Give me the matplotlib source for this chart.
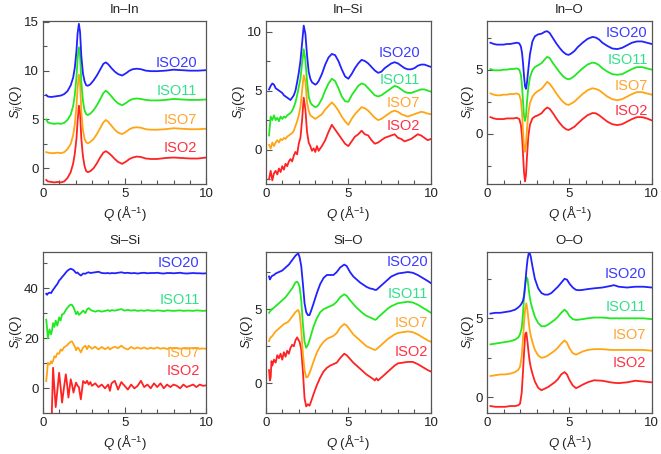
import numpy as np
import matplotlib
matplotlib.use("Agg")
import matplotlib.pyplot as plt
from matplotlib.ticker import MultipleLocator

plt.rcParams['font.family'] = ['Liberation Sans', 'DejaVu Sans']
plt.rcParams['mathtext.fontset'] = 'custom'
plt.rcParams['mathtext.rm'] = 'Liberation Sans'
plt.rcParams['mathtext.it'] = 'Liberation Sans:italic'

series_names = ['ISO2', 'ISO7', 'ISO11', 'ISO20']

# ---- In-In ----
q_inin = [0.2, 0.3, 0.5, 0.7, 0.9, 1.1, 1.3, 1.5, 1.7, 1.85, 1.95, 2.05, 2.12, 2.2, 2.27,
          2.35, 2.45, 2.55, 2.65, 2.75, 2.9, 3.1, 3.3, 3.5, 3.7, 3.85, 4.0, 4.2, 4.4, 4.6,
          4.85, 5.1, 5.3, 5.5, 5.75, 6.0, 6.3, 6.6, 7.0, 7.5, 8.0, 8.5, 9.0, 9.5, 10.0]
inin_iso2 = [-1.2, -1.35, -1.4, -1.45, -1.4, -1.45, -1.35, -1.0, -0.4, 0.5, 1.5, 3.0, 4.8, 6.4, 5.8,
             3.0, 1.2, 0.2, -0.3, -0.4, -0.3, 0.0, 0.5, 1.1, 1.6, 1.75, 1.6, 1.3, 0.95, 0.65,
             0.45, 0.7, 0.95, 1.1, 1.2, 1.15, 1.0, 0.95, 0.95, 1.05, 1.1, 1.05, 1.0, 1.0, 1.1]
inin_iso7 = [1.65, 1.6, 1.55, 1.55, 1.6, 1.55, 1.65, 1.95, 2.5, 3.4, 4.5, 6.3, 8.2, 9.6, 8.8,
             5.8, 3.9, 3.0, 2.65, 2.55, 2.7, 3.0, 3.5, 4.1, 4.7, 4.95, 4.75, 4.35, 3.95, 3.65,
             3.5, 3.75, 4.0, 4.15, 4.2, 4.15, 4.0, 3.95, 3.95, 4.0, 4.1, 4.05, 4.0, 4.0, 4.05]
inin_iso11 = [5.0, 4.7, 4.6, 4.55, 4.6, 4.55, 4.65, 4.95, 5.5, 6.4, 7.5, 9.3, 11.2, 12.4, 11.6,
              8.8, 6.9, 5.9, 5.55, 5.45, 5.6, 5.95, 6.45, 7.05, 7.7, 7.95, 7.75, 7.35, 6.95, 6.65,
              6.45, 6.7, 6.95, 7.1, 7.15, 7.1, 7.0, 6.95, 6.95, 7.0, 7.1, 7.05, 7.0, 7.0, 7.05]
inin_iso20 = [7.5, 7.35, 7.3, 7.35, 7.4, 7.45, 7.6, 7.9, 8.5, 9.3, 10.3, 12.0, 13.8, 14.8, 14.0,
              11.5, 9.7, 8.9, 8.5, 8.45, 8.6, 9.0, 9.5, 10.1, 10.7, 10.85, 10.65, 10.25, 9.9, 9.65,
              9.5, 9.75, 10.0, 10.15, 10.2, 10.15, 10.0, 9.95, 9.95, 10.0, 10.1, 10.05, 10.0, 10.0, 10.05]

# ---- In-Si ----
q_insi = [0.2, 0.3, 0.4, 0.5, 0.6, 0.7, 0.8, 0.9, 1.0, 1.1, 1.2, 1.3, 1.4, 1.5, 1.6, 1.7,
          1.8, 1.9, 2.0, 2.1, 2.2, 2.3, 2.4, 2.5, 2.6, 2.7, 2.8, 2.9, 3.0, 3.1, 3.2, 3.4,
          3.6, 3.8, 4.0, 4.2, 4.4, 4.6, 4.8, 5.0, 5.2, 5.4, 5.6, 5.8, 6.0, 6.2, 6.4, 6.6,
          6.8, 7.0, 7.2, 7.4, 7.6, 7.8, 8.0, 8.2, 8.4, 8.6, 8.8, 9.0, 9.2, 9.4, 9.6, 9.8, 10.0]
insi_iso2 = [-2.5, -1.8, -2.6, -2.0, -1.8, -2.1, -1.6, -1.9, -1.4, -1.7, -1.2, -1.4, -1.0, -0.8, -1.0, -0.5,
             -0.2, -0.4, 0.5, 1.0, 2.5, 4.4, 3.4, 1.5, 0.6, 0.3, -0.1, 0.1, -0.2, 0.3, -0.1, 0.3,
             0.8, 1.5, 2.1, 1.7, 1.3, 0.9, 0.5, 0.3, 0.7, 1.1, 1.3, 1.6, 1.3, 1.2, 0.8, 0.5,
             0.6, 0.8, 1.0, 1.1, 1.2, 1.3, 1.0, 0.9, 0.7, 0.8, 0.9, 1.1, 1.3, 1.2, 1.0, 0.8, 0.9]
insi_iso7 = [0.4, 0.1, 0.6, 0.3, 0.6, 0.8, 0.6, 0.9, 0.8, 1.0, 0.9, 1.1, 1.2, 1.3, 1.4, 1.6,
             2.0, 2.4, 2.9, 3.6, 5.0, 6.3, 5.8, 4.0, 3.3, 2.9, 2.8, 2.7, 2.6, 2.7, 2.8, 3.0,
             3.4, 3.7, 4.0, 3.7, 3.3, 2.8, 2.4, 2.1, 2.6, 3.0, 3.3, 3.6, 3.5, 3.3, 3.0, 2.7,
             2.5, 2.6, 2.8, 3.0, 3.2, 3.3, 3.2, 3.0, 2.9, 2.8, 2.9, 3.0, 3.1, 3.2, 3.15, 3.05, 3.0]
insi_iso11 = [1.2, 2.8, 2.5, 2.9, 2.5, 2.7, 2.4, 2.8, 2.6, 2.8, 2.7, 2.9, 3.0, 3.1, 3.3, 3.6,
              4.0, 4.6, 5.3, 6.0, 7.3, 8.5, 7.6, 5.8, 4.5, 4.0, 3.8, 3.7, 3.6, 3.65, 3.8, 4.3,
              5.0, 5.6, 6.0, 5.8, 5.2, 4.5, 4.1, 4.05, 4.6, 5.0, 5.4, 5.6, 5.5, 5.2, 4.9, 4.6,
              4.5, 4.6, 4.8, 5.0, 5.2, 5.4, 5.3, 5.1, 4.9, 4.8, 4.8, 4.9, 5.0, 5.1, 5.1, 5.0, 4.9]
insi_iso20 = [5.1, 5.4, 5.6, 5.5, 5.2, 5.1, 5.0, 4.9, 4.8, 4.6, 4.5, 4.4, 4.3, 4.2, 4.4, 4.6,
              5.0, 5.7, 6.5, 7.5, 9.0, 10.5, 9.8, 8.0, 6.6, 6.0, 5.7, 5.6, 5.5, 5.6, 5.8, 6.4,
              7.2, 7.8, 8.1, 8.0, 7.5, 6.8, 6.2, 6.0, 6.4, 6.9, 7.3, 7.6, 7.5, 7.3, 7.0, 6.7,
              6.5, 6.6, 6.9, 7.1, 7.3, 7.4, 7.3, 7.1, 6.9, 6.8, 6.8, 6.9, 7.1, 7.2, 7.2, 7.1, 7.0]

# ---- In-O ----
q_ino = [0.2, 0.4, 0.6, 0.8, 1.0, 1.2, 1.4, 1.6, 1.8, 1.95, 2.05, 2.12, 2.18, 2.24, 2.3, 2.36,
         2.42, 2.5, 2.6, 2.75, 2.9, 3.1, 3.3, 3.5, 3.65, 3.8, 4.0, 4.2, 4.4, 4.6, 4.8, 4.95,
         5.1, 5.3, 5.5, 5.8, 6.1, 6.4, 6.6, 6.8, 7.0, 7.3, 7.6, 7.9, 8.2, 8.5, 8.8, 9.1, 9.4, 9.7, 10.0]
ino_iso2 = [1.3, 1.2, 1.15, 1.15, 1.15, 1.2, 1.2, 1.2, 1.25, 1.15, 0.7, -0.2, -1.6, -3.0, -3.7, -3.2,
            -1.8, -0.2, 0.7, 1.2, 1.35, 1.45, 1.6, 1.9, 2.05, 1.95, 1.6, 1.2, 0.85, 0.55, 0.35, 0.3,
            0.4, 0.55, 0.8, 1.15, 1.45, 1.62, 1.6, 1.45, 1.25, 0.95, 0.75, 0.68, 0.75, 0.95, 1.15, 1.3, 1.3, 1.2, 1.05]
ino_iso7 = [3.15, 3.05, 3.0, 3.0, 3.05, 3.05, 3.1, 3.1, 3.15, 3.05, 2.6, 1.6, 0.2, -1.0, -1.4, -0.8,
            0.4, 1.6, 2.4, 2.9, 3.15, 3.35, 3.5, 3.8, 4.05, 3.9, 3.55, 3.15, 2.8, 2.5, 2.3, 2.25,
            2.35, 2.5, 2.75, 3.1, 3.4, 3.55, 3.5, 3.4, 3.2, 2.9, 2.7, 2.62, 2.7, 2.9, 3.1, 3.25, 3.25, 3.15, 3.05]
ino_iso11 = [5.05, 4.95, 4.95, 4.95, 5.0, 5.0, 5.05, 5.05, 5.1, 5.0, 4.6, 3.7, 2.5, 1.4, 1.0, 1.4,
             2.5, 3.6, 4.4, 4.95, 5.2, 5.35, 5.5, 5.8, 6.0, 5.9, 5.5, 5.15, 4.8, 4.5, 4.3, 4.25,
             4.32, 4.5, 4.75, 5.1, 5.4, 5.55, 5.5, 5.35, 5.1, 4.85, 4.65, 4.6, 4.65, 4.85, 5.05, 5.2, 5.2, 5.1, 5.0]
ino_iso20 = [7.1, 7.0, 6.95, 6.95, 6.95, 7.0, 7.0, 7.05, 7.1, 7.05, 6.8, 6.3, 5.5, 4.5, 3.7, 3.5,
             4.0, 5.0, 6.2, 7.2, 7.6, 7.75, 7.8, 7.95, 8.0, 7.85, 7.45, 7.05, 6.7, 6.4, 6.2, 6.15,
             6.25, 6.45, 6.75, 7.1, 7.4, 7.55, 7.5, 7.35, 7.1, 6.85, 6.65, 6.6, 6.7, 6.9, 7.1, 7.2, 7.2, 7.1, 7.0]

# ---- Si-Si ----
q_sisi = [0.2, 0.25, 0.3, 0.4, 0.5, 0.55, 0.62, 0.7, 0.78, 0.88, 0.99, 1.08, 1.17, 1.28, 1.4, 1.48,
          1.56, 1.63, 1.7, 1.78, 1.87, 1.95, 2.03, 2.12, 2.2, 2.32, 2.46, 2.6, 2.7, 2.8, 2.9, 3.0,
          3.2, 3.4, 3.6, 3.8, 4.0, 4.1, 4.2, 4.4, 4.6, 4.8, 5.0, 5.2, 5.4, 5.6, 5.8, 6.0,
          6.2, 6.4, 6.6, 6.8, 7.0, 7.2, 7.4, 7.6, 7.8, 8.0, 8.2, 8.4, 8.6, 8.8, 9.0, 9.2,
          9.4, 9.6, 9.8, 10.0]
sisi_iso2 = [np.nan, np.nan, np.nan, np.nan, -30.0, -8.0, 8.2, 0.0, -7.5, -1.0, 6.2, 0.5, -5.7, 0.0, 5.6, 1.5,
             -3.7, 0.0, 3.6, 1.5, -1.7, 0.5, 2.3, 1.0, 0.5, -4.4, 2.9, 2.0, 3.0, 1.5, 2.5, 1.0,
             2.0, 0.5, 1.5, 0.0, 1.5, -1.0, 2.0, 3.0, -0.5, 2.5, 1.0, -0.5, 1.5, 0.0, 1.0, 3.0,
             0.5, 1.5, 0.0, 2.0, 0.5, 2.0, 0.0, 1.5, 0.5, 1.5, 1.0, 0.0, 1.5, 0.5, 1.0, 1.5,
             0.5, 1.5, 1.0, 1.2]
sisi_iso7 = [2.9, 6.2, 10.2, 9.5, 10.8, 10.0, 11.0, 12.8, 12.3, 14.0, 13.8, 15.5, 15.0, 16.3, 16.8, 17.2,
             17.8, 18.2, 18.6, 18.7, 17.6, 16.6, 15.2, 16.3, 15.8, 14.3, 16.3, 17.0, 15.6, 17.0, 16.4, 15.8,
             16.6, 15.5, 16.5, 15.6, 16.4, 15.5, 16.0, 16.6, 16.0, 17.0, 16.0, 15.5, 16.5, 15.8, 16.3, 15.8,
             16.3, 15.7, 16.2, 15.8, 16.3, 15.8, 16.1, 15.7, 16.2, 15.9, 16.1, 15.8, 16.0, 15.8, 16.1, 15.9,
             16.0, 15.8, 15.9, 15.8]
sisi_iso11 = [27.4, 24.0, 19.9, 23.5, 21.5, 23.0, 26.0, 24.5, 27.0, 25.0, 28.3, 27.0, 29.5, 29.8, 31.3, 32.0,
              32.6, 33.1, 33.4, 33.3, 32.3, 31.0, 29.6, 30.6, 29.3, 30.0, 31.0, 30.0, 31.5, 32.0, 31.4, 31.0,
              30.6, 31.0, 30.6, 30.9, 31.2, 30.8, 31.2, 31.0, 31.3, 31.6, 31.0, 31.3, 31.0, 31.2, 30.9, 31.1,
              30.9, 31.2, 31.0, 30.9, 31.1, 31.0, 30.8, 31.1, 31.0, 30.9, 31.0, 31.1, 30.9, 31.0, 31.0, 30.9,
              31.1, 31.0, 30.9, 31.0]
sisi_iso20 = [37.7, 37.3, 37.8, 38.2, 38.0, 38.6, 39.3, 40.0, 40.8, 41.6, 43.0, 43.6, 44.4, 45.2, 46.2, 46.8,
              47.2, 47.5, 47.7, 47.5, 47.2, 46.6, 46.0, 46.2, 45.6, 45.0, 45.8, 45.7, 46.1, 46.3, 46.0, 46.1,
              46.3, 46.5, 46.0, 45.9, 46.0, 45.8, 46.0, 45.9, 46.1, 46.3, 46.0, 46.1, 45.9, 46.0, 45.8, 46.0,
              46.1, 45.9, 46.0, 46.0, 46.1, 45.9, 45.8, 46.0, 46.0, 45.9, 46.0, 46.1, 45.9, 45.8, 45.9, 46.0,
              45.9, 45.9, 45.8, 45.9]

# ---- Si-O ----
q_sio = [0.2, 0.25, 0.3, 0.35, 0.4, 0.5, 0.6, 0.7, 0.8, 0.9, 1.0, 1.1, 1.2, 1.3, 1.4, 1.5,
         1.6, 1.7, 1.8, 1.9, 1.97, 2.05, 2.15, 2.25, 2.35, 2.45, 2.55, 2.65, 2.75, 2.9, 3.1, 3.3,
         3.5, 3.7, 3.9, 4.1, 4.3, 4.5, 4.75, 4.9, 5.1, 5.3, 5.5, 5.7, 5.9, 6.1, 6.3, 6.5,
         6.6, 6.7, 6.8, 7.0, 7.2, 7.4, 7.6, 7.8, 8.0, 8.3, 8.6, 8.9, 9.2, 9.5, 9.8, 10.0]
sio_iso2 = [0.9, 0.2, 0.4, 1.5, 1.2, 1.6, 1.4, 1.9, 1.7, 2.0, 1.6, 2.1, 1.8, 2.2, 2.0, 2.4,
            2.6, 2.5, 2.9, 3.1, 2.95, 2.8, 2.3, 0.8, -1.0, -1.55, -1.4, -1.5, -1.2, -0.7, -0.1, 0.4,
            0.8, 1.05, 1.2, 1.3, 1.4, 1.7, 2.0, 1.9, 1.65, 1.4, 1.2, 1.0, 0.8, 0.6, 0.45, 0.3,
            0.2, 0.35, 0.2, 0.4, 0.6, 0.8, 1.0, 1.2, 1.35, 1.4, 1.45, 1.45, 1.3, 1.1, 0.9, 0.8]
sio_iso7 = [2.85, 3.0, 3.1, 3.15, 3.2, 3.35, 3.5, 3.6, 3.7, 3.8, 3.9, 4.0, 4.05, 4.1, 4.2, 4.35,
            4.5, 4.65, 4.8, 4.9, 4.95, 4.7, 3.6, 2.0, 0.9, 0.4, 0.45, 0.7, 1.0, 1.5, 2.1, 2.5,
            2.8, 3.0, 3.1, 3.2, 3.4, 3.75, 4.0, 3.9, 3.6, 3.3, 3.1, 2.9, 2.7, 2.5, 2.4, 2.3,
            2.25, 2.3, 2.4, 2.6, 2.8, 3.0, 3.15, 3.3, 3.4, 3.45, 3.5, 3.45, 3.3, 3.1, 2.9, 2.8]
sio_iso11 = [4.75, 4.85, 4.9, 5.0, 5.0, 5.1, 5.2, 5.3, 5.4, 5.5, 5.6, 5.7, 5.8, 5.95, 6.1, 6.25,
             6.4, 6.6, 6.8, 6.85, 6.75, 6.5, 5.6, 4.0, 2.8, 2.4, 2.6, 2.9, 3.3, 3.85, 4.4, 4.8,
             5.0, 5.1, 5.2, 5.3, 5.5, 5.8, 6.0, 5.9, 5.6, 5.35, 5.1, 4.9, 4.7, 4.55, 4.45, 4.35,
             4.28, 4.32, 4.45, 4.65, 4.85, 5.05, 5.2, 5.3, 5.4, 5.45, 5.5, 5.45, 5.3, 5.1, 4.9, 4.75]
sio_iso20 = [7.2, 7.0, 7.1, 7.2, 7.25, 7.3, 7.4, 7.45, 7.5, 7.55, 7.6, 7.7, 7.8, 7.9, 8.0, 8.15,
             8.3, 8.45, 8.6, 8.7, 8.75, 8.5, 7.9, 6.7, 5.4, 4.8, 4.6, 4.6, 4.9, 5.4, 6.1, 6.7,
             7.1, 7.3, 7.3, 7.3, 7.5, 7.8, 8.0, 7.9, 7.5, 7.2, 7.0, 6.8, 6.65, 6.5, 6.4, 6.35,
             6.3, 6.3, 6.4, 6.6, 6.8, 7.0, 7.2, 7.3, 7.4, 7.45, 7.5, 7.45, 7.3, 7.1, 6.9, 6.75]

# ---- O-O ----
q_oo = [0.2, 0.5, 0.8, 1.1, 1.4, 1.7, 1.9, 2.0, 2.1, 2.17, 2.24, 2.31, 2.38, 2.45, 2.52, 2.58,
        2.65, 2.75, 2.9, 3.1, 3.3, 3.5, 3.7, 3.9, 4.1, 4.3, 4.5, 4.7, 4.85, 5.0, 5.2, 5.4,
        5.6, 5.8, 6.1, 6.5, 7.0, 7.5, 7.7, 8.0, 8.5, 9.0, 9.5, 10.0]
oo_iso2 = [-0.55, -0.6, -0.6, -0.6, -0.55, -0.55, -0.5, -0.4, 0.3, 1.5, 2.8, 4.0, 4.1, 3.5, 2.8, 2.3,
           1.9, 1.5, 1.0, 0.6, 0.45, 0.55, 0.65, 0.8, 0.95, 1.15, 1.45, 1.6, 1.45, 1.1, 0.75, 0.58,
           0.68, 0.8, 0.95, 1.08, 1.05, 0.95, 0.92, 0.9, 0.95, 1.05, 1.0, 0.95]
oo_iso7 = [1.35, 1.4, 1.45, 1.45, 1.5, 1.6, 1.75, 1.95, 2.6, 3.6, 4.7, 5.6, 5.95, 5.5, 4.8, 4.3,
           3.9, 3.5, 3.0, 2.65, 2.5, 2.55, 2.65, 2.8, 2.95, 3.15, 3.4, 3.6, 3.45, 3.1, 2.8, 2.7,
           2.8, 2.9, 3.0, 3.05, 3.05, 3.0, 3.0, 3.0, 3.0, 3.0, 3.0, 2.95]
oo_iso11 = [3.35, 3.4, 3.45, 3.5, 3.55, 3.65, 3.8, 4.0, 4.4, 5.2, 6.3, 7.2, 7.6, 7.5, 6.9, 6.4,
            6.0, 5.6, 5.1, 4.7, 4.5, 4.5, 4.6, 4.75, 4.9, 5.1, 5.35, 5.55, 5.4, 5.15, 4.95, 4.9,
            4.92, 4.95, 5.0, 5.05, 5.05, 5.0, 5.0, 5.0, 5.0, 5.0, 5.0, 4.95]
oo_iso20 = [5.3, 5.35, 5.35, 5.4, 5.45, 5.55, 5.7, 5.8, 5.95, 6.1, 6.4, 7.1, 8.0, 8.7, 9.1, 9.15,
            8.9, 8.3, 7.5, 6.9, 6.6, 6.5, 6.5, 6.6, 6.8, 7.0, 7.25, 7.5, 7.45, 7.2, 6.95, 6.8,
            6.78, 6.8, 6.85, 6.9, 6.95, 7.05, 7.1, 7.0, 6.95, 7.0, 7.0, 6.95]

panels = [
    ('In\u2013In', q_inin, [inin_iso2, inin_iso7, inin_iso11, inin_iso20]),
    ('In\u2013Si', q_insi, [insi_iso2, insi_iso7, insi_iso11, insi_iso20]),
    ('In\u2013O', q_ino, [ino_iso2, ino_iso7, ino_iso11, ino_iso20]),
    ('Si\u2013Si', q_sisi, [sisi_iso2, sisi_iso7, sisi_iso11, sisi_iso20]),
    ('Si\u2013O', q_sio, [sio_iso2, sio_iso7, sio_iso11, sio_iso20]),
    ('O\u2013O', q_oo, [oo_iso2, oo_iso7, oo_iso11, oo_iso20]),
]

# layout / style
line_colors = ['#ff2222', '#ffa514', '#22e822', '#2222ff']
text_colors = ['#ff3045', '#ffa530', '#30e08a', '#3a3aff']
ylims = [(-1.6, 15.1), (-2.9, 10.9), (-3.9, 8.8), (-9.9, 54.4), (-2.0, 8.85), (-1.0, 9.2)]
ymajor = [5, 5, 5, 20, 5, 5]
label_x = [0.945, 0.935, 0.975, 0.96, 0.985, 0.965]
label_y = [[0.22, 0.39, 0.57, 0.74],
           [0.352, 0.495, 0.638, 0.806],
           [0.445, 0.6, 0.757, 0.925],
           [0.263, 0.375, 0.702, 0.93],
           [0.381, 0.557, 0.737, 0.936],
           [0.31, 0.485, 0.66, 0.862]]
axes_rects = [[0.065, 0.595, 0.247, 0.359], [0.402, 0.595, 0.250, 0.359], [0.737, 0.595, 0.249, 0.359],
              [0.065, 0.090, 0.247, 0.355], [0.402, 0.090, 0.250, 0.355], [0.737, 0.090, 0.249, 0.355]]

fig = plt.figure(figsize=(6.61, 4.54), dpi=100)
edge = '#555555'
for i, (title, q, curves) in enumerate(panels):
    ax = fig.add_axes(axes_rects[i])
    for j, s in enumerate(curves):
        ax.plot(q, s, color=line_colors[j], lw=1.3)
        ax.text(label_x[i], label_y[i][j], series_names[j], transform=ax.transAxes,
                ha='right', va='center', color=text_colors[j], fontsize=10.5)
    ax.set_xlim(0, 10)
    ax.set_ylim(*ylims[i])
    ax.xaxis.set_major_locator(MultipleLocator(5))
    ax.xaxis.set_minor_locator(MultipleLocator(1))
    ax.yaxis.set_major_locator(MultipleLocator(ymajor[i]))
    ax.yaxis.set_minor_locator(MultipleLocator(ymajor[i] / 2))
    ax.tick_params(which='both', direction='in', color=edge, labelsize=9.5, labelcolor='#222222')
    ax.tick_params(which='major', length=4, width=0.8, pad=3)
    ax.tick_params(which='minor', length=3, width=0.8)
    for sp in ax.spines.values():
        sp.set_color(edge)
        sp.set_linewidth(0.9)
    ax.set_title(title, fontsize=9.5, pad=6, color='#222222')
    ax.set_xlabel(r'$Q$ (Å$^{-1}$)', fontsize=9.5, labelpad=3, color='#222222')
    ax.set_ylabel(r'$S_{ij}(Q)$', fontsize=9.5, labelpad=-1, color='#222222')

fig.savefig('out.png', dpi=100)
